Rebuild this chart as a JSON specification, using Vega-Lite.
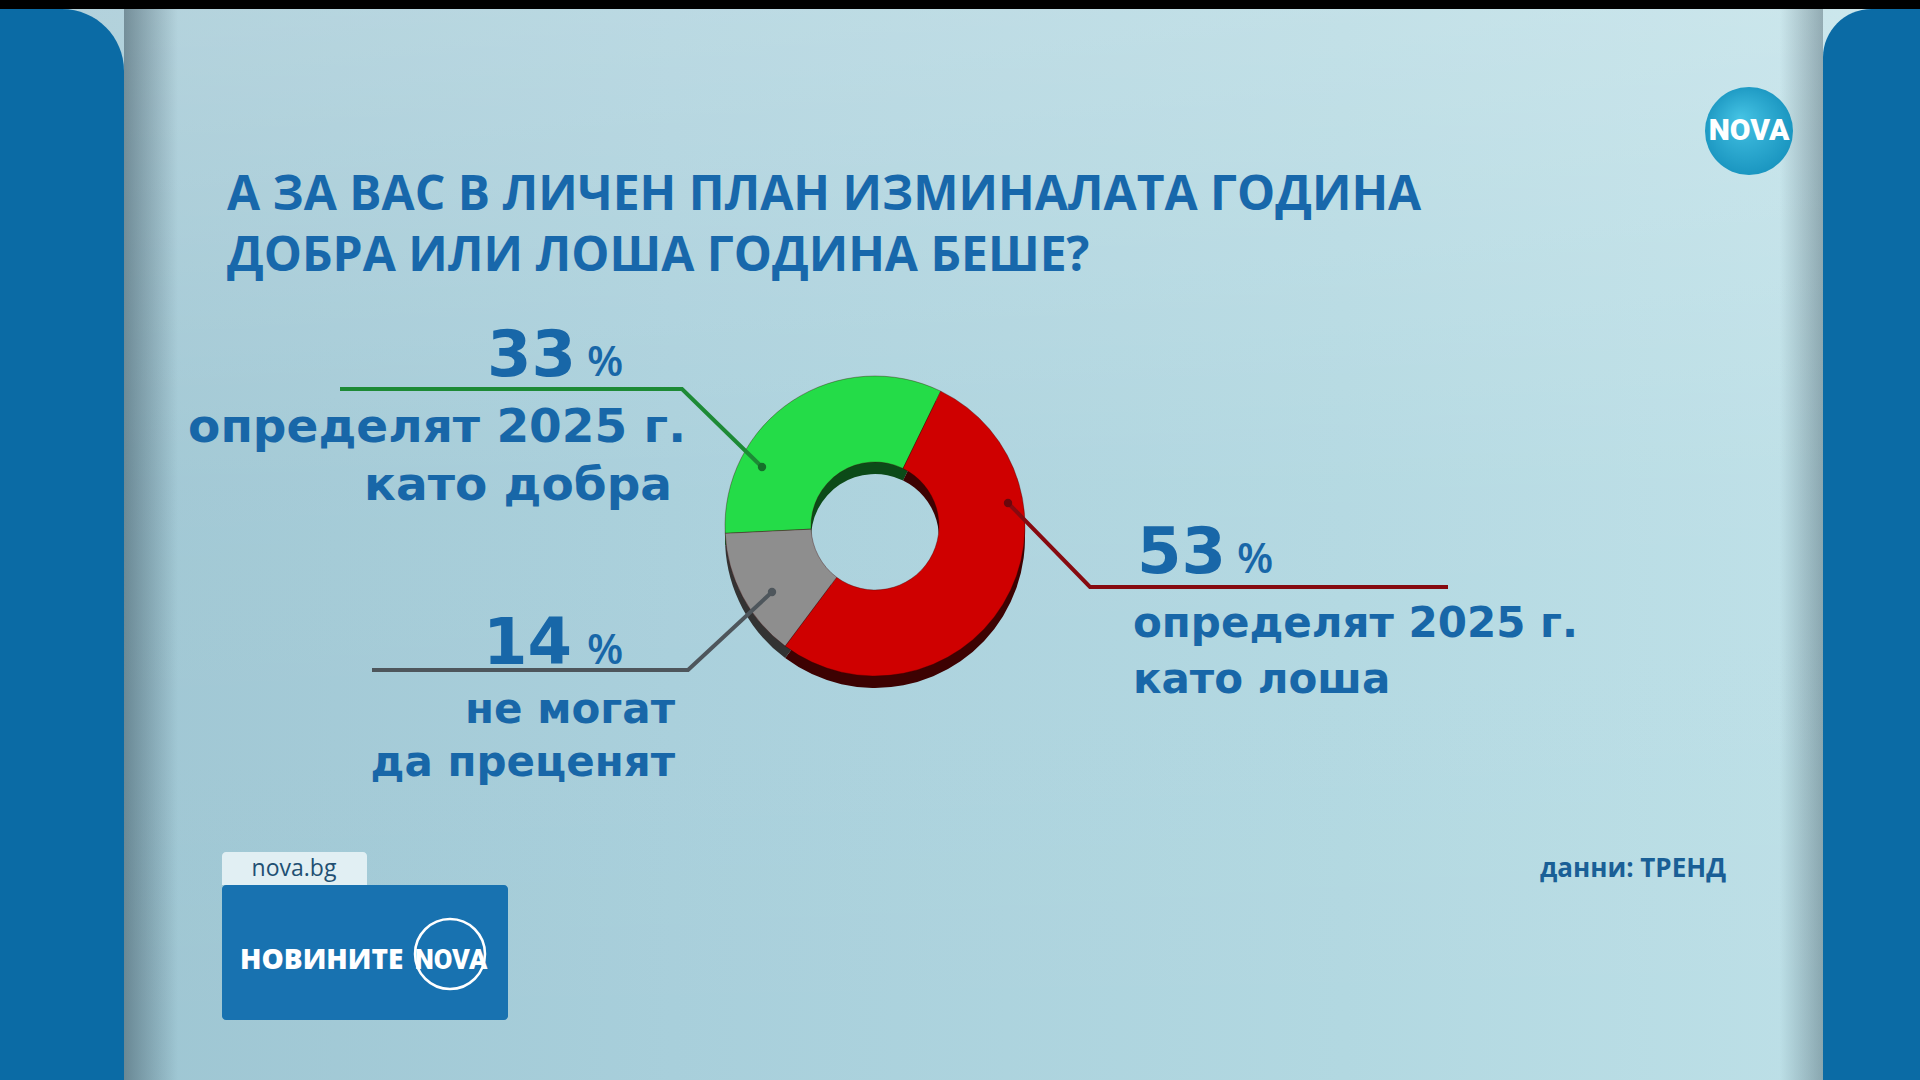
{
  "$schema": "https://vega.github.io/schema/vega-lite/v6.json",
  "width": 1750,
  "height": 1052,
  "autosize": {"type": "none"},
  "padding": {"left": 0, "top": 0, "right": 170, "bottom": 28},
  "background": "#0b6ba5",
  "config": {"view": {"stroke": null}, "axis": {"disable": true}},
  "datasets": {
    "donut": [
      {"label": "добра", "pct": 33},
      {"label": "лоша", "pct": 53},
      {"label": "не могат да преценят", "pct": 14}
    ],
    "links": [
      {"g": "добра", "i": 0, "x": 340, "y": 389},
      {"g": "добра", "i": 1, "x": 682, "y": 389},
      {"g": "добра", "i": 2, "x": 762, "y": 467},
      {"g": "не могат да преценят", "i": 0, "x": 372, "y": 670},
      {"g": "не могат да преценят", "i": 1, "x": 688, "y": 670},
      {"g": "не могат да преценят", "i": 2, "x": 772, "y": 592},
      {"g": "лоша", "i": 0, "x": 1448, "y": 587},
      {"g": "лоша", "i": 1, "x": 1090, "y": 587},
      {"g": "лоша", "i": 2, "x": 1008, "y": 503}
    ]
  },
  "encoding": {
    "x": {"field": "x", "type": "quantitative", "scale": {"domain": [0, 1750], "nice": false, "zero": false}, "axis": null},
    "y": {"field": "y", "type": "quantitative", "scale": {"domain": [0, 1052], "nice": false, "zero": false, "reverse": true}, "axis": null}
  },
  "layer": [
    {
      "data": {"values": [{"x": 0, "x2": 1920, "y": 9, "y2": 1080}]},
      "mark": {"type": "rect", "fill": {"gradient": "linear", "x1": 0, "y1": 0, "x2": 1, "y2": 0, "stops": [
        {"offset": 0, "color": "#9cc4d1"},
        {"offset": 0.35, "color": "#a8cfdb"},
        {"offset": 0.7, "color": "#b2d8e1"},
        {"offset": 1, "color": "#bfe1e8"}
      ]}},
      "encoding": {"x2": {"field": "x2"}, "y2": {"field": "y2"}}
    },
    {
      "data": {"values": [{"x": 0, "x2": 1920, "y": 9, "y2": 1080}]},
      "mark": {"type": "rect", "fill": {"gradient": "linear", "x1": 0, "y1": 0, "x2": 0, "y2": 1, "stops": [
        {"offset": 0, "color": "rgba(255,255,255,0.22)"},
        {"offset": 0.45, "color": "rgba(255,255,255,0.04)"},
        {"offset": 1, "color": "rgba(255,255,255,0)"}
      ]}},
      "encoding": {"x2": {"field": "x2"}, "y2": {"field": "y2"}}
    },
    {
      "data": {"values": [{"x": 124, "x2": 178, "y": 9, "y2": 1080}]},
      "mark": {"type": "rect", "fill": {"gradient": "linear", "x1": 0, "y1": 0, "x2": 1, "y2": 0, "stops": [
        {"offset": 0, "color": "rgba(40,60,72,0.45)"},
        {"offset": 1, "color": "rgba(40,60,72,0)"}
      ]}},
      "encoding": {"x2": {"field": "x2"}, "y2": {"field": "y2"}}
    },
    {
      "data": {"values": [{"x": 1780, "x2": 1823, "y": 9, "y2": 1080}]},
      "mark": {"type": "rect", "fill": {"gradient": "linear", "x1": 0, "y1": 0, "x2": 1, "y2": 0, "stops": [
        {"offset": 0, "color": "rgba(40,60,72,0)"},
        {"offset": 1, "color": "rgba(40,60,72,0.35)"}
      ]}},
      "encoding": {"x2": {"field": "x2"}, "y2": {"field": "y2"}}
    },
    {
      "data": {"values": [{"x": 0, "x2": 124, "y": 9, "y2": 1080}]},
      "mark": {"type": "rect", "fill": "#0b6ba5", "cornerRadiusTopRight": 62},
      "encoding": {"x2": {"field": "x2"}, "y2": {"field": "y2"}}
    },
    {
      "data": {"values": [{"x": 1823, "x2": 1920, "y": 9, "y2": 1080}]},
      "mark": {"type": "rect", "fill": "#0b6ba5", "cornerRadiusTopLeft": 62},
      "encoding": {"x2": {"field": "x2"}, "y2": {"field": "y2"}}
    },
    {
      "data": {"values": [{"x": 0, "x2": 1920, "y": 0, "y2": 9}]},
      "mark": {"type": "rect", "fill": "#000000"},
      "encoding": {"x2": {"field": "x2"}, "y2": {"field": "y2"}}
    },
    {
      "data": {"name": "donut"},
      "transform": [{"stack": "pct", "groupby": [], "sort": [{"field": "label", "order": "ascending"}], "as": ["t0", "t1"]}],
      "mark": {"type": "arc", "outerRadius": 150, "innerRadius": 64, "yOffset": 12},
      "encoding": {
        "x": null,
        "y": null,
        "theta": {"field": "t0", "type": "quantitative", "stack": null, "scale": {"domain": [0, 100], "range": [-1.6197, 4.6635]}},
        "theta2": {"field": "t1"},
        "color": {"field": "label", "type": "nominal", "legend": null, "scale": {"domain": ["добра", "лоша", "не могат да преценят"], "range": ["#0c4a18", "#3d0202", "#333333"]}}
      }
    },
    {
      "data": {"name": "donut"},
      "transform": [{"stack": "pct", "groupby": [], "sort": [{"field": "label", "order": "ascending"}], "as": ["t0", "t1"]}],
      "mark": {"type": "arc", "outerRadius": 150, "innerRadius": 64, "stroke": "rgba(60,0,0,0.35)", "strokeWidth": 1},
      "encoding": {
        "x": null,
        "y": null,
        "theta": {"field": "t0", "type": "quantitative", "stack": null, "scale": {"domain": [0, 100], "range": [-1.6197, 4.6635]}},
        "theta2": {"field": "t1"},
        "color": {"field": "label", "type": "nominal", "legend": null, "scale": {"domain": ["добра", "лоша", "не могат да преценят"], "range": ["#24dc48", "#cf0000", "#8e8e8e"]}}
      }
    },
    {
      "data": {"name": "links"},
      "mark": {"type": "line", "strokeWidth": 4, "interpolate": "linear"},
      "encoding": {
        "order": {"field": "i", "type": "quantitative"},
        "color": {"field": "g", "type": "nominal", "legend": null, "scale": {"domain": ["добра", "лоша", "не могат да преценят"], "range": ["#1d8a36", "#860a10", "#4e565c"]}}
      }
    },
    {
      "data": {"name": "links"},
      "transform": [{"filter": "datum.i == 2"}],
      "mark": {"type": "point", "filled": true, "size": 70, "opacity": 1},
      "encoding": {
        "color": {"field": "g", "type": "nominal", "legend": null, "scale": {"domain": ["добра", "лоша", "не могат да преценят"], "range": ["#15702a", "#6a070c", "#4e565c"]}}
      }
    },
    {
      "data": {"values": [
        {"t": "А ЗА ВАС В ЛИЧЕН ПЛАН  ИЗМИНАЛАТА ГОДИНА", "x": 227, "y": 210},
        {"t": "ДОБРА ИЛИ ЛОША ГОДИНА БЕШЕ?", "x": 227, "y": 271}
      ]},
      "mark": {"type": "text", "font": "Open Sans", "fontWeight": 700, "fontSize": 48, "align": "left", "baseline": "alphabetic", "fill": "#1868ab"},
      "encoding": {"text": {"field": "t"}}
    },
    {
      "data": {"values": [
        {"t": "33", "x": 576, "y": 376},
        {"t": "14", "x": 572, "y": 664},
        {"t": "53", "x": 1226, "y": 573}
      ]},
      "mark": {"type": "text", "font": "DejaVu Sans", "fontWeight": "bold", "fontSize": 64, "align": "right", "baseline": "alphabetic", "fill": "#1867a8"},
      "encoding": {"text": {"field": "t"}}
    },
    {
      "data": {"values": [
        {"t": "%", "x": 587, "y": 376},
        {"t": "%", "x": 587, "y": 664},
        {"t": "%", "x": 1237, "y": 573}
      ]},
      "mark": {"type": "text", "font": "Open Sans", "fontWeight": 600, "fontSize": 42, "align": "left", "baseline": "alphabetic", "fill": "#1867a8"},
      "encoding": {"text": {"field": "t"}}
    },
    {
      "data": {"values": [
        {"t": "определят 2025 г.", "x": 686, "y": 442},
        {"t": "като добра", "x": 672, "y": 500}
      ]},
      "mark": {"type": "text", "font": "DejaVu Sans", "fontWeight": "bold", "fontSize": 47, "align": "right", "baseline": "alphabetic", "fill": "#1867a8"},
      "encoding": {"text": {"field": "t"}}
    },
    {
      "data": {"values": [
        {"t": "не могат", "x": 675, "y": 723},
        {"t": "да преценят", "x": 675, "y": 776}
      ]},
      "mark": {"type": "text", "font": "DejaVu Sans", "fontWeight": "bold", "fontSize": 42, "align": "right", "baseline": "alphabetic", "fill": "#1867a8"},
      "encoding": {"text": {"field": "t"}}
    },
    {
      "data": {"values": [
        {"t": "определят 2025 г.", "x": 1133, "y": 637},
        {"t": "като лоша", "x": 1133, "y": 693}
      ]},
      "mark": {"type": "text", "font": "DejaVu Sans", "fontWeight": "bold", "fontSize": 42, "align": "left", "baseline": "alphabetic", "fill": "#1867a8"},
      "encoding": {"text": {"field": "t"}}
    },
    {
      "data": {"values": [{"x": 1749, "y": 131}]},
      "mark": {"type": "point", "shape": "circle", "size": 7744, "filled": true, "opacity": 1, "fill": {"gradient": "radial", "x1": 0.4, "y1": 0.35, "r1": 0, "x2": 0.5, "y2": 0.5, "r2": 0.6, "stops": [
        {"offset": 0, "color": "#45c3e4"},
        {"offset": 1, "color": "#148fbb"}
      ]}}
    },
    {
      "data": {"values": [{"t": "NOVA", "x": 1749, "y": 131}]},
      "mark": {"type": "text", "font": "Roboto", "fontWeight": 900, "fontSize": 30, "align": "center", "baseline": "middle", "fill": "#ffffff"},
      "encoding": {"text": {"field": "t"}}
    },
    {
      "data": {"values": [{"x": 222, "x2": 367, "y": 852, "y2": 885}]},
      "mark": {"type": "rect", "fill": "#e6f2f5", "opacity": 0.92, "cornerRadiusTopLeft": 4, "cornerRadiusTopRight": 4},
      "encoding": {"x2": {"field": "x2"}, "y2": {"field": "y2"}}
    },
    {
      "data": {"values": [{"t": "nova.bg", "x": 294, "y": 876}]},
      "mark": {"type": "text", "font": "Open Sans", "fontSize": 23, "align": "center", "baseline": "alphabetic", "fill": "#214f72"},
      "encoding": {"text": {"field": "t"}}
    },
    {
      "data": {"values": [{"x": 222, "x2": 508, "y": 885, "y2": 1020}]},
      "mark": {"type": "rect", "fill": "#1872b0", "cornerRadius": 4},
      "encoding": {"x2": {"field": "x2"}, "y2": {"field": "y2"}}
    },
    {
      "data": {"values": [{"x": 450, "y": 954}]},
      "mark": {"type": "point", "shape": "circle", "size": 4900, "filled": false, "stroke": "#ffffff", "strokeWidth": 2.5, "opacity": 1}
    },
    {
      "data": {"values": [{"t": "НОВИНИТЕ", "x": 240, "y": 969}]},
      "mark": {"type": "text", "font": "Open Sans", "fontWeight": 800, "fontSize": 28, "align": "left", "baseline": "alphabetic", "fill": "#ffffff"},
      "encoding": {"text": {"field": "t"}}
    },
    {
      "data": {"values": [{"t": "NOVA", "x": 451, "y": 969}]},
      "mark": {"type": "text", "font": "Roboto", "fontWeight": 900, "fontSize": 27, "align": "center", "baseline": "alphabetic", "fill": "#ffffff"},
      "encoding": {"text": {"field": "t"}}
    },
    {
      "data": {"values": [{"t": "данни: ТРЕНД", "x": 1540, "y": 877}]},
      "mark": {"type": "text", "font": "Open Sans", "fontWeight": 700, "fontSize": 26, "align": "left", "baseline": "alphabetic", "fill": "#1a5f96"},
      "encoding": {"text": {"field": "t"}}
    }
  ],
  "resolve": {"scale": {"color": "independent"}}
}
